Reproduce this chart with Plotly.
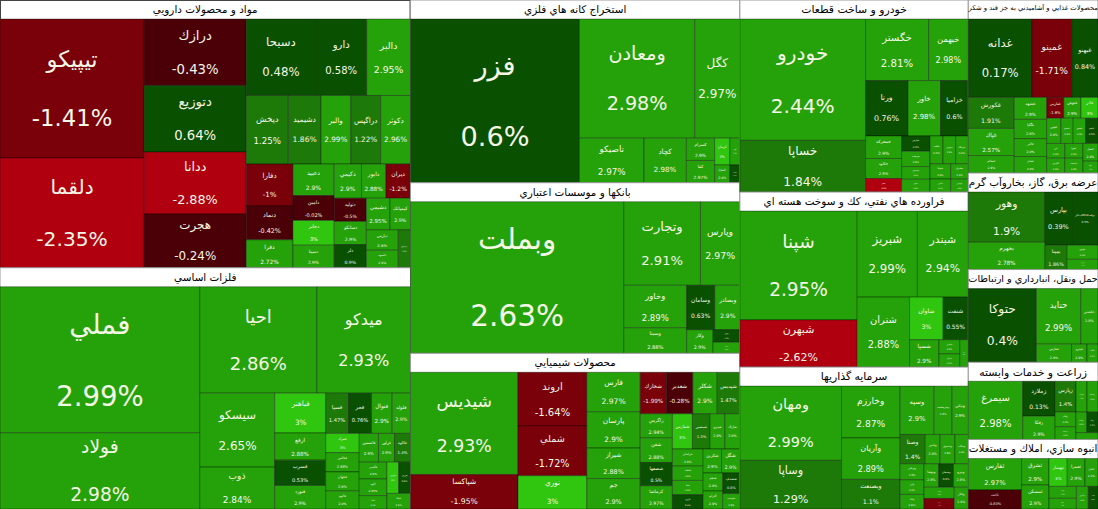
import plotly.graph_objects as go

# sector titles
sectors = [
    "مواد و محصولات دارويي",
    "فلزات اساسي",
    "استخراج كانه هاي فلزي",
    "بانكها و موسسات اعتباري",
    "محصولات شيميايي",
    "خودرو و ساخت قطعات",
    "فراورده هاي نفتي، كك و سوخت هسته اي",
    "سرمايه گذاريها",
    "محصولات غذايي و آشاميدني به جز قند و شكر",
    "عرضه برق، گاز، بخاروآب گرم",
    "حمل ونقل، انبارداري و ارتباطات",
    "زراعت و خدمات وابسته",
    "انبوه سازي، املاك و مستغلات",
]

# market value (rough units) and daily change % per symbol
pharma_names = ["تيپيكو", "دلقما", "درازك", "دتوزيع", "ددانا", "هجرت", "دسبحا", "دارو", "دالبر", "دپخش",
                "دشيميد", "والبر", "دراگپس", "دكوثر", "دفارا", "دتماد", "دفرا", "دعبيد", "دامين", "دجابر",
                "دسينا", "دكيمي", "دابور", "ديران", "دتوليد", "دسانكو", "دلر", "دشيمي", "كيمياتك", "دپارس",
                "داسوه", "دزهراوي"]
pharma_pct = [-1.41, -2.35, -0.43, 0.64, -2.88, -0.24, 0.48, 0.58, 2.95, 1.25,
              1.86, 2.99, 1.22, 2.96, -1.00, -0.42, 2.72, 2.90, -0.02, 3.00,
              2.90, 2.90, 2.88, -1.20, -0.50, 2.90, 0.90, 2.95, 2.90, 2.80,
              2.90, 1.50]
pharma_vals = [215, 170, 73, 73, 68, 59, 57, 42, 36, 31,
               24, 22, 22, 22, 21, 17, 14, 14, 11, 11,
               10, 10, 9, 9, 8, 8, 8, 8, 7, 7,
               6, 5]

metals_names = ["فملي", "فولاد", "احيا", "ميدكو", "سيسكو", "ذوب", "فباهنر", "ارفع", "فسرب", "فنورد",
                "فسپا", "فجر", "فنوال", "فمراد", "فلوله", "فخاس", "فجهان", "فالوم", "فاسمين", "فرآور",
                "فكاوه", "فگستر", "كاوه", "فاما", "فروس", "فزرين", "فپنتا"]
metals_pct = [2.99, 2.98, 2.86, 2.93, 2.65, 2.84, 3.00, 2.88, 0.53, 2.90,
              1.47, 0.76, 2.90, 3.00, 2.90, 2.88, 2.90, 2.90, 2.90, 2.90,
              1.40, 2.90, 2.95, 2.90, 3.00, 0.80, 2.90]
metals_vals = [316, 165, 135, 108, 60, 34, 22, 15, 14, 13,
               10, 10, 9, 7, 8, 7, 7, 6.5, 6, 5,
               5, 5, 5, 4, 4, 4, 4]

mining_names = ["فزر", "ومعادن", "كگل", "تاصيكو", "كچاد", "كسرام", "كفا", "كرمان", "كنور", "كمنگنز", "كساپا"]
mining_pct = [0.60, 2.98, 2.97, 2.97, 2.98, 2.90, 2.97, 3.00, 2.90, 0.70, 2.90]
mining_vals = [308, 153, 60, 32, 21, 7, 7, 4.5, 3, 2, 3]

bank_names = ["وبملت", "وتجارت", "وپارس", "وخاور", "وسامان", "وبصادر", "وسينا", "وكار", "وپست", "ونوين"]
bank_pct = [2.63, 2.91, 2.97, 2.89, 0.63, 2.90, 2.88, 2.90, 2.90, 0.50]
bank_vals = [363, 72, 37, 30, 14, 12.5, 18, 7, 3.3, 3.8]

chem_names = ["شيديس", "شپاكسا", "اروند", "شملي", "پارسان", "نوري", "فارس", "شيراز", "جم", "شخارك",
              "شغدير", "شكلر", "شپديس", "شصفها", "كرماشا", "زاگرس", "شفن", "شفارس", "شبصير", "شپترو",
              "شاراك", "خراسان", "شلعاب", "شفا", "مارون", "شكربن", "شگل", "شجم", "كترام", "شصدف", "شوينده"]
chem_pct = [2.93, -1.95, -1.64, -1.72, 2.90, 3.00, 2.97, 2.88, 2.90, -1.99,
            -0.28, 2.90, 1.47, 0.50, 2.97, 2.94, 2.88, 3.00, 1.30, 2.90,
            2.90, 2.90, 2.90, 2.90, 0.40, 2.90, 2.90, 2.90, 2.90, 0.60, 2.90]
chem_vals = [125, 42, 42, 39, 22, 26, 24, 18.5, 18.5, 12.4,
             12.4, 11.5, 10.7, 8.5, 8.5, 8.9, 8.9, 8, 7, 6,
             6, 6, 5, 5, 5, 5, 5, 4, 4, 4, 3]

auto_names = ["خودرو", "خساپا", "خگستر", "خبهمن", "ورنا", "خاور", "خزاميا", "خمحركه", "خكاوه", "خفنر",
              "خپارس", "خريخت", "خموتور", "خرينگ", "خچرخش", "خمهر", "خلنت", "ختوقا", "خاذين", "خشرق", "خپويش"]
auto_pct = [2.44, 1.84, 2.81, 2.98, 0.76, 2.98, 0.60, 2.90, 2.90, -2.40,
            0.40, 2.90, 2.90, 2.90, 2.90, 2.90, 2.90, 2.90, 2.90, 2.90, 2.90]
auto_vals = [169, 72, 43, 27, 26, 20, 17, 9, 8, 5.4,
             4.8, 4.8, 3.9, 3.9, 4, 4, 4, 3.5, 3, 3, 2.5]

oil_names = ["شپنا", "شبهرن", "شبريز", "شبندر", "شتران", "شاوان", "شنفت", "شسپا", "شپاس", "شرانل", "شاملا"]
oil_pct = [2.95, -2.62, 2.99, 2.94, 2.88, 3.00, 0.55, 2.90, 2.90, 2.90, 2.90]
oil_vals = [143, 62, 58, 49, 41, 16, 12, 9, 3.3, 3.1, 2.6]

invest_names = ["ومهان", "وساپا", "وخارزم", "وآريان", "وبصنعت", "وسپه", "وسرچشمه", "ونيكي", "وصنا", "وبوعلي",
                "وكغدير", "وتوسم", "وغدير", "وصندوق", "وسكاب", "واتي", "وبانك", "وتوصا", "وسبحان", "ونيرو", "ولكار"]
invest_pct = [2.99, 1.29, 2.87, 2.89, 1.10, 2.90, 2.90, 2.90, 1.40, 2.90,
              2.90, -1.20, 2.90, 2.90, 2.90, 2.90, 2.95, 2.90, 0.80, 2.90, 2.90]
invest_vals = [87, 57, 35, 28, 20, 19, 10, 9, 8.5, 4.4,
               3.9, 3.7, 5, 5, 4.5, 4, 4, 4, 4, 4, 3.5]

food_names = ["غدانه", "غمينو", "غبهنو", "غكورش", "غپاك", "غسالم", "غشهد", "غگلپا", "غالبر", "غشان",
              "غفارس", "غنوش", "غاذر", "غچين", "غصينو", "غبشهر", "غپينو", "غزر", "غگرجي", "غمهرا",
              "غدشت", "غسل", "غويتا"]
food_pct = [0.17, -1.71, 0.84, 1.91, 2.57, 2.90, 2.90, 2.90, 2.90, 2.90,
            -1.80, 2.90, 3.00, 2.90, 2.90, 2.90, 0.50, 2.90, 2.90, 2.90,
            2.90, 2.90, 2.90]
food_vals = [56, 35, 23, 16, 14, 9, 8, 7, 6.5, 6,
             4, 4, 4, 4, 3.5, 3.5, 3.5, 3, 3, 3,
             3, 3, 2]

power_names = ["وهور", "بجهرم", "بپارس", "برقت0612ب‌انار", "بمپنا", "بكهنوج", "بزاگرس"]
power_pct = [1.90, 2.78, 0.39, 0.50, 1.86, 2.90, 2.90]
power_vals = [48, 26, 17.6, 17.4, 6.7, 5.4, 3.9]

transport_names = ["حتوكا", "حتايد", "حكشتي", "حفارس", "حپترو", "حآسا"]
transport_pct = [0.40, 2.99, 2.90, 2.90, 2.90, 2.90]
transport_vals = [63, 31, 12, 8, 3.5, 2.5]

agri_names = ["سيمرغ", "زملارد", "زفكا", "زپارس", "زشريف", "زمگسا", "زقيام", "زدشت", "زكشت", "زبينا", "زشير"]
agri_pct = [2.98, 0.13, 2.90, 1.40, 2.90, 2.90, 2.90, 2.90, 2.90, 0.70, 2.90]
agri_vals = [42, 15, 10, 8.5, 4.5, 4.5, 4, 3.5, 3, 3, 2]

estate_names = ["ثفارس", "ثاخت", "ثشرق", "ثمسكن", "ثبهساز", "ثعمرا", "ثامان", "ثرود", "ثزاگرس", "ثالوند", "ثنظام"]
estate_pct = [2.97, -0.83, 2.90, 2.90, 3.00, 2.90, 2.90, 2.90, 2.90, 0.60, 2.90]
estate_vals = [23, 14, 10, 9, 7, 6.8, 5, 4.5, 3.7, 3, 4]

groups = [
    (pharma_names, pharma_pct, pharma_vals),
    (metals_names, metals_pct, metals_vals),
    (mining_names, mining_pct, mining_vals),
    (bank_names, bank_pct, bank_vals),
    (chem_names, chem_pct, chem_vals),
    (auto_names, auto_pct, auto_vals),
    (oil_names, oil_pct, oil_vals),
    (invest_names, invest_pct, invest_vals),
    (food_names, food_pct, food_vals),
    (power_names, power_pct, power_vals),
    (transport_names, transport_pct, transport_vals),
    (agri_names, agri_pct, agri_vals),
    (estate_names, estate_pct, estate_vals),
]

# the map is laid out as vertical strips of sectors, top to bottom
columns = [[0, 1], [2, 3, 4], [5, 6, 7], [8, 9, 10, 11, 12]]

HEADER = 19  # height of the sector title strip
FONT = "Tahoma, DejaVu Sans, sans-serif"


def cell_color(p):
    # stepped green/red scale like the market map
    if p >= 3:
        return "#30c60f"
    if p >= 2:
        return "#25a20a"
    if p >= 1:
        return "#1d7a08"
    if p >= 0:
        return "#0a5001"
    if p > -1:
        return "#4a0006"
    if p > -2:
        return "#7a0009"
    return "#b00010"


def build_sector(i, dx, dy):
    sector = sectors[i]
    names, pcts, vals = groups[i]
    ids, labels, parents, values = [sector], [sector], [""], [0]
    colors, texts, sizes = ["white"], ["<b>" + sector + "</b>"], [20]
    fcolors, lcolors = ["black"], ["#9a9a9a"]
    for n, p, v in zip(names, pcts, vals):
        ids.append(sector + "/" + n)
        labels.append(n)
        parents.append(sector)
        values.append(v)
        colors.append(cell_color(p))
        texts.append(f"{n}<br><br>{p:g}%")
        sizes.append(max(6, min(30, 1.55 * v ** 0.5)))
        fcolors.append("#f5f7e6")
        lcolors.append("rgba(0,0,0,0.35)")
    return go.Treemap(
        ids=ids, labels=labels, parents=parents, values=values,
        branchvalues="remainder", sort=True,
        domain=dict(x=dx, y=dy),
        text=texts, textinfo="text", textposition="middle center",
        textfont=dict(family=FONT, size=sizes, color=fcolors),
        marker=dict(colors=colors, line=dict(width=1, color=lcolors),
                    pad=dict(t=HEADER, l=0, r=0, b=0), depthfade=False),
        tiling=dict(packing="squarify", squarifyratio=1.618, pad=0),
        pathbar=dict(visible=False),
        root_color="white",
        hoverinfo="skip",
    )


sector_sums = [sum(g[2]) for g in groups]
col_sums = [sum(sector_sums[i] for i in col) for col in columns]
total = sum(col_sums)

fig = go.Figure()
x_start = 0.0
for col, cs in zip(columns, col_sums):
    x_end = min(1.0, x_start + cs / total)
    y_top = 1.0
    for i in col:
        y_bot = max(0.0, y_top - sector_sums[i] / cs)
        fig.add_trace(build_sector(i, [x_start, x_end], [y_bot, y_top]))
        y_top = y_bot
    x_start = x_end

fig.update_layout(width=1098, height=509, margin=dict(l=0, r=0, t=0, b=0),
                  paper_bgcolor="white")

fig.write_html(
    "out.html",
    config={"displayModeBar": False},
    post_script="document.body.style.margin='0';document.body.style.overflow='hidden';",
)
